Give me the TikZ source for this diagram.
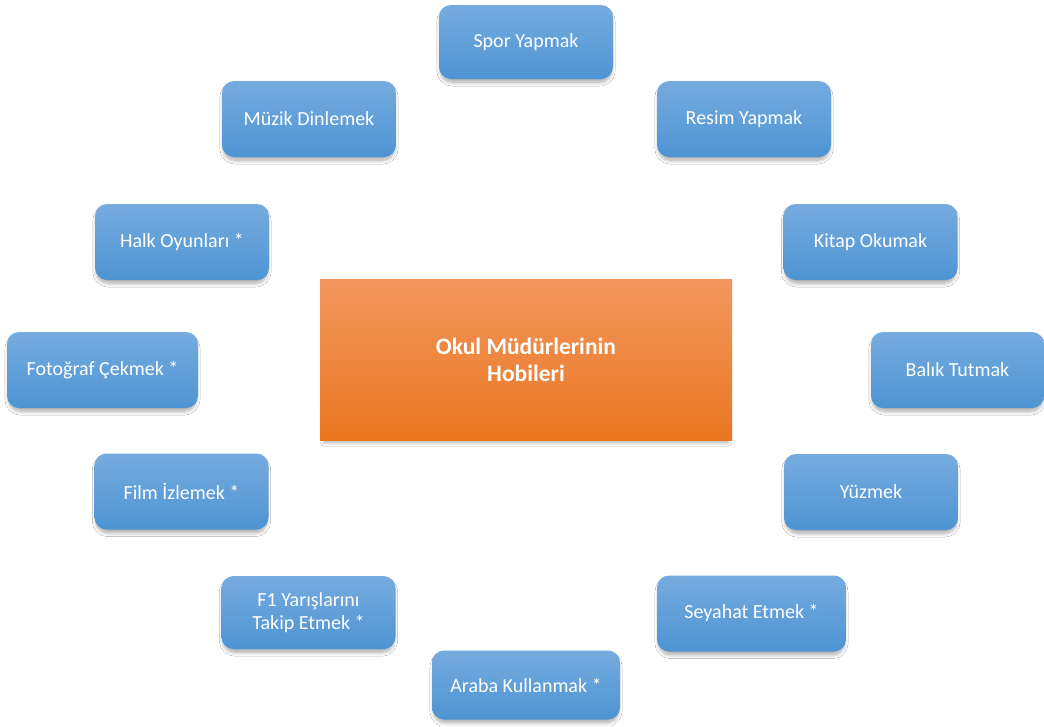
\documentclass[tikz,border=0pt]{standalone}
\usepackage{fontspec}
\setmainfont{Carlito}
\usetikzlibrary{shadows.blur}
\definecolor{btop}{HTML}{76ABDF}
\definecolor{bbot}{HTML}{4E94D3}
\definecolor{otop}{HTML}{F2975F}
\definecolor{obot}{HTML}{E9761F}
\tikzset{
  softshadow/.style={blur shadow={shadow xshift=0pt, shadow yshift=-4pt, shadow scale=0.98, shadow blur radius=4pt, shadow blur steps=10, shadow opacity=35}},
  hobby/.style={rounded corners=12pt, top color=btop, bottom color=bbot, text=white,
    font=\fontsize{20}{22.5}\selectfont, minimum width=174pt, minimum height=76pt,
    align=center, inner sep=0pt, softshadow},
  mainbox/.style={top color=otop, bottom color=obot, text=white,
    font=\fontsize{23.5}{27}\selectfont\bfseries, minimum width=412pt, minimum height=161pt,
    align=center, inner sep=0pt, softshadow}
}
\begin{document}
\begin{tikzpicture}[x=1pt,y=-1pt]
\fill[white] (0,0) rectangle (1044,726);
\useasboundingbox (0,0) rectangle (1044,726);
\node[mainbox] (main) at (526,359.5) {Okul Müdürlerinin\\Hobileri};
\node[hobby, minimum height=74pt] (spor) at (526,42) {Spor Yapmak};
\node[hobby] (resim) at (744,119) {Resim Yapmak};
\node[hobby] (muzik) at (309,119) {Müzik Dinlemek};
\node[hobby] (halk) at (182,242) {Halk Oyunları *};
\node[hobby] (kitap) at (870.5,242) {Kitap Okumak};
\node[hobby, minimum width=191pt] (foto) at (102.5,370) {Fotoğraf Çekmek *};
\node[hobby, minimum width=173pt] (balik) at (957.5,370) {Balık Tutmak};
\node[hobby] (film) at (181.5,491.5) {Film İzlemek *};
\node[hobby] (yuzmek) at (871,492) {Yüzmek};
\node[hobby, minimum height=73pt] (f1) at (308.5,612.5) {F1 Yarışlarını\\Takip Etmek *};
\node[hobby, minimum width=189pt] (seyahat) at (751.5,613.5) {Seyahat Etmek *};
\node[hobby, minimum width=188pt, minimum height=69pt] (araba) at (526,685) {Araba Kullanmak *};
\end{tikzpicture}
\end{document}
